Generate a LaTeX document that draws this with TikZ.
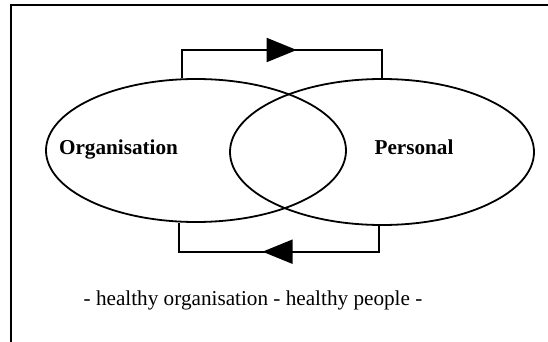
\documentclass[tikz,border=0pt]{standalone}
\usepackage{fontspec}
\setmainfont{Liberation Serif}
\usetikzlibrary{shapes.geometric, arrows.meta, decorations.markings}
\tikzstyle{every node}=[font=\fontsize{21.2}{25}\selectfont, inner sep=0pt]
\tikzstyle{set} = [ellipse, draw, line width=1.8pt]
\tikzstyle{setname} = [anchor=base, font=\fontsize{21.2}{25}\selectfont\bfseries]
\tikzstyle{flowline} = [draw, line width=1.8pt, postaction={decorate},
  decoration={markings, mark=at position 0.5 with {\arrow[xshift=15pt]{Triangle[length=30pt,width=24pt]}}}]

\begin{document}
\begin{tikzpicture}[x=1pt, y=-1pt]
    \useasboundingbox (0,0) rectangle (548,342);
    % Frame
    \draw[line width=1.8pt] (11,342) -- (11,5) -- (548,5);
    % Place the two sets
    \node [set, minimum width=300pt, minimum height=143pt] (org) at (196,150.5) {};
    \node [set, minimum width=304pt, minimum height=146pt] (pers) at (382,152) {};
    \node [setname] (orgname) at (118.5,154) {Organisation};
    \node [setname] (persname) at (414,154) {Personal};
    % Draw the loop
    \coordinate (tl) at (181.7,50);
    \coordinate (tr) at (381.7,50);
    \coordinate (bl) at (179,251.7);
    \coordinate (br) at (379,251.7);
    \path [flowline] (org.north -| tl) -- (tl) -- (tr) -- (tr |- pers.north);
    \path [flowline] (br |- pers.south) -- (br) -- (bl) -- (bl |- org.south);
    % Caption
    \node [anchor=base] (motto) at (253,305) {- healthy organisation - healthy people -};
\end{tikzpicture}
\end{document}
